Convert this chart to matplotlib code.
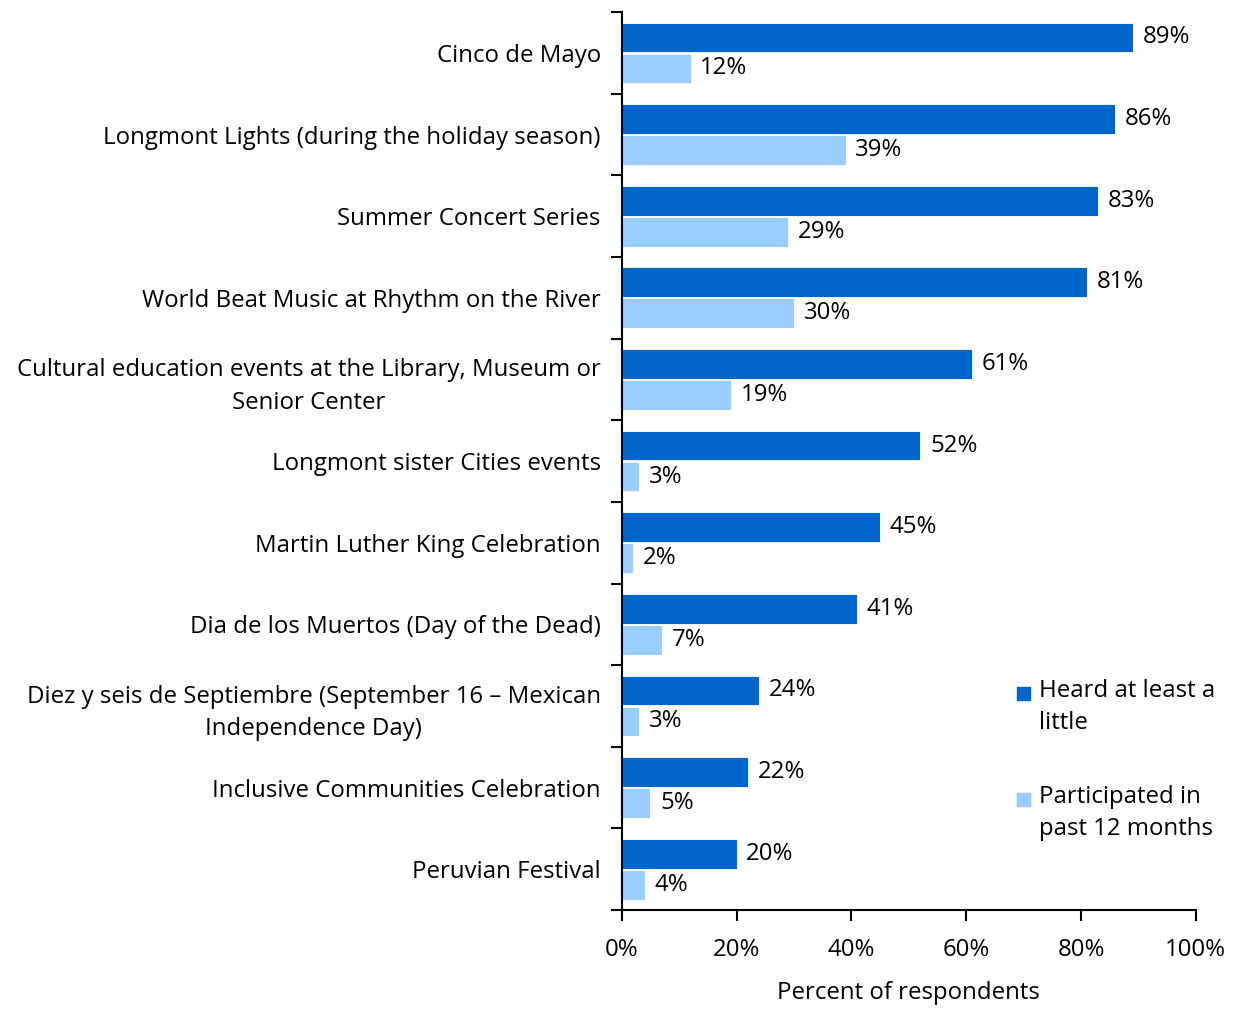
import matplotlib.pyplot as plt
import numpy as np

categories = [
    "Cinco de Mayo",
    "Longmont Lights (during the holiday season)",
    "Summer Concert Series",
    "World Beat Music at Rhythm on the River",
    "Cultural education events at the Library, Museum or\nSenior Center",
    "Longmont sister Cities events",
    "Martin Luther King Celebration",
    "Dia de los Muertos (Day of the Dead)",
    "Diez y seis de Septiembre (September 16 \u2013 Mexican\nIndependence Day)",
    "Inclusive Communities Celebration",
    "Peruvian Festival",
]
heard = [89, 86, 83, 81, 61, 52, 45, 41, 24, 22, 20]
participated = [12, 39, 29, 30, 19, 3, 2, 7, 3, 5, 4]
series_names = ["Heard at least a\nlittle", "Participated in\npast 12 months"]
xticks = [0, 20, 40, 60, 80, 100]

plt.rcParams['font.family'] = ['Open Sans', 'DejaVu Sans']
dark = '#0066CC'
light = '#99CCFF'
fs = 17.3

fig = plt.figure(figsize=(12.36, 10.09), dpi=100)
ax = fig.add_axes([0.503, 0.0981, 0.4645, 0.8899])

n = len(categories)
y = np.arange(n)
h = 0.365
ax.barh(y - 0.19, heard, height=h, color=dark, edgecolor='white', linewidth=0.6)
ax.barh(y + 0.19, participated, height=h, color=light, edgecolor='white', linewidth=0.6)

for i in range(n):
    ax.text(heard[i] + 1.7, y[i] - 0.19, f"{heard[i]}%", va='center', ha='left', fontsize=fs)
    ax.text(participated[i] + 1.7, y[i] + 0.19, f"{participated[i]}%", va='center', ha='left', fontsize=fs)

ax.set_xlim(0, 100)
ax.set_ylim(n - 0.5, -0.5)
ax.set_xticks(xticks)
ax.set_xticklabels([f"{t}%" for t in xticks], fontsize=fs)
ax.set_xlabel("Percent of respondents", fontsize=fs, labelpad=14)

# category boundaries as ticks, labels at centers
ax.set_yticks(np.arange(-0.5, n, 1.0))
ax.set_yticklabels([])
ax.set_yticks(y, minor=True)
ax.set_yticklabels(categories, minor=True, fontsize=fs, ha='right')
ax.tick_params(axis='y', which='minor', length=0, pad=15)
ax.tick_params(axis='y', which='major', length=8, width=1.5)
ax.tick_params(axis='x', length=8, width=1.5, pad=12)

for lab in ax.get_yticklabels(minor=True):
    lab.set_multialignment('center')
    lab.set_linespacing(1.45)

for s in ['top', 'right']:
    ax.spines[s].set_visible(False)
for s in ['left', 'bottom']:
    ax.spines[s].set_linewidth(1.5)

# legend
fig.patches.append(plt.Rectangle((1017 / 1236, 1 - 700 / 1009), 13 / 1236, 13 / 1009,
                                 transform=fig.transFigure, color=dark))
fig.patches.append(plt.Rectangle((1017 / 1236, 1 - 806 / 1009), 13 / 1236, 13 / 1009,
                                 transform=fig.transFigure, color=light))
fig.text(1039 / 1236, 1 - 679 / 1009, series_names[0], fontsize=fs, va='top', ha='left', linespacing=1.45)
fig.text(1039 / 1236, 1 - 785 / 1009, series_names[1], fontsize=fs, va='top', ha='left', linespacing=1.45)

fig.savefig("out.png", dpi=100)
